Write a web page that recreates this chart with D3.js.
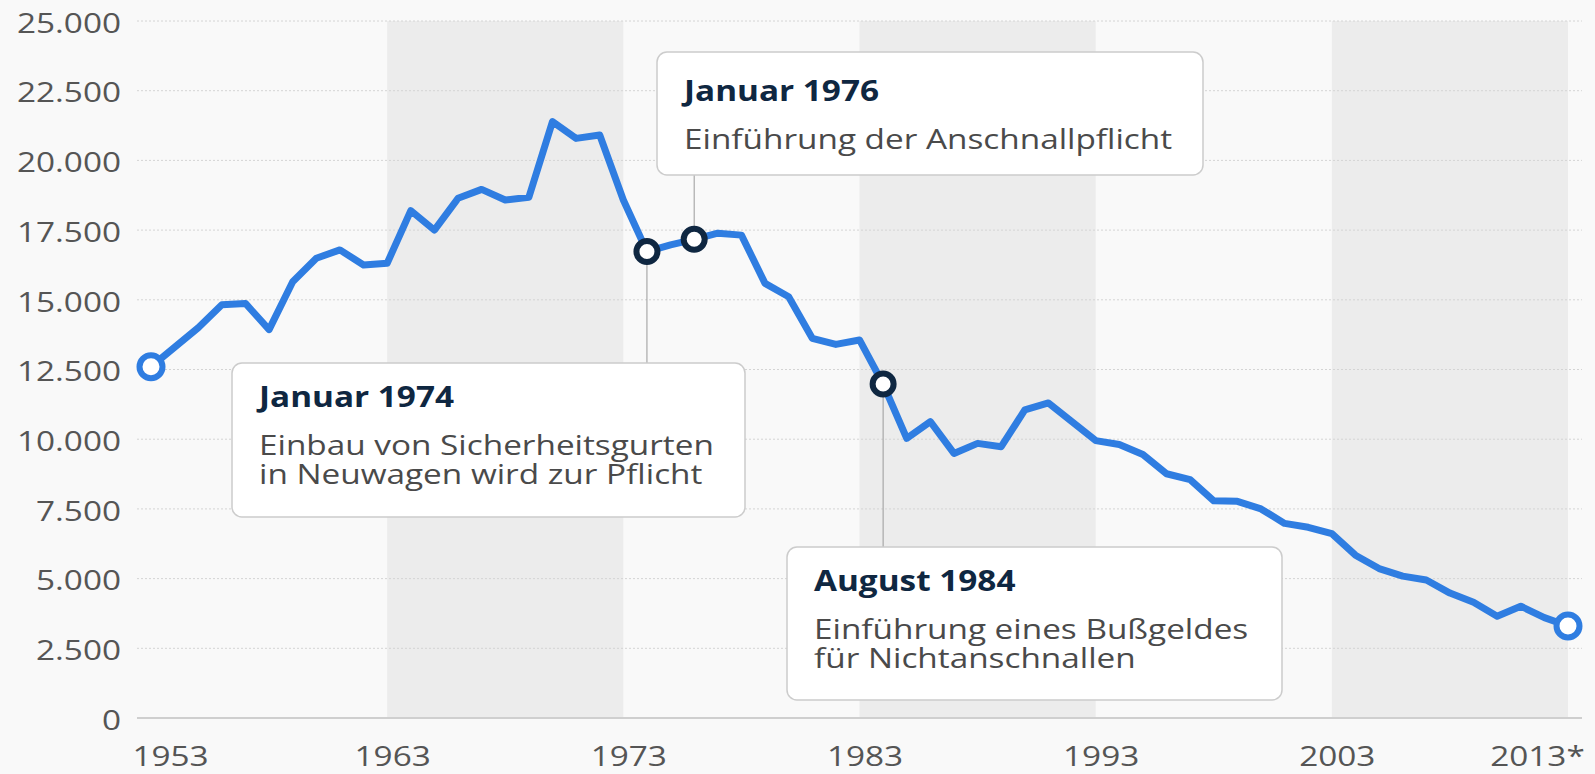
<!DOCTYPE html>
<html>
<head>
<meta charset="utf-8">
<script src="https://cdn.jsdelivr.net/npm/d3@7"></script>
<style>
  html, body { margin: 0; padding: 0; background: #f9f9f9; }
  svg { display: block; font-family: "Open Sans", sans-serif; }
  .grid line { stroke: #d4d4d4; stroke-width: 1; stroke-dasharray: 2,2; }
  .tick text { fill: #555; font-size: 28px; font-family: "Open Sans", sans-serif; }
</style>
</head>
<body>
<svg id="chart"></svg>
<script>
// Verkehrstote in Deutschland, 1953 - 2013
const years = [
  1953, 1954, 1955, 1956, 1957, 1958, 1959, 1960, 1961, 1962,
  1963, 1964, 1965, 1966, 1967, 1968, 1969, 1970, 1971, 1972,
  1973, 1974, 1975, 1976, 1977, 1978, 1979, 1980, 1981, 1982,
  1983, 1984, 1985, 1986, 1987, 1988, 1989, 1990, 1991, 1992,
  1993, 1994, 1995, 1996, 1997, 1998, 1999, 2000, 2001, 2002,
  2003, 2004, 2005, 2006, 2007, 2008, 2009, 2010, 2011, 2012,
  2013
];
const deaths = [
  12600, 13300, 14000, 14820, 14870, 13930, 15650, 16490, 16790, 16250,
  16310, 18200, 17500, 18640, 18960, 18580, 18680, 21390, 20790, 20910,
  18580, 16730, 16970, 17170, 17390, 17320, 15590, 15110, 13620, 13400,
  13560, 11980, 10030, 10630, 9490, 9850, 9730, 11050, 11300, 10630,
  9950, 9810, 9450, 8760, 8550, 7790, 7770, 7500, 6980, 6840,
  6610, 5840, 5360, 5090, 4950, 4480, 4150, 3650, 4010, 3600,
  3300
];

const xTicks = [1953, 1963, 1973, 1983, 1993, 2003, 2013];
const xTickLabels = ["1953", "1963", "1973", "1983", "1993", "2003", "2013*"];
const yTicks = [0, 2500, 5000, 7500, 10000, 12500, 15000, 17500, 20000, 22500, 25000];
const bandStarts = [1963, 1983, 2003];

const annoYears = [1974, 1976, 1984];
const annoTitles = ["Januar 1974", "Januar 1976", "August 1984"];
const annoLines = [
  ["Einbau von Sicherheitsgurten", "in Neuwagen wird zur Pflicht"],
  ["Einführung der Anschnallpflicht"],
  ["Einführung eines Bußgeldes", "für Nichtanschnallen"]
];

// layout
const width = 1595, height = 774;
const plot = { left: 137, right: 1582, top: 21, bottom: 718 };
const SX = 1.19; // the source picture is stretched horizontally
const boxes = [
  { x: 232, y: 363, w: 513, h: 154, titleDy: 44 },
  { x: 657, y: 52, w: 546, h: 123, titleDy: 49 },
  { x: 787, y: 547, w: 495, h: 153, titleDy: 44 }
];

const data = years.map((yr, i) => ({ year: yr, value: deaths[i] }));

const svg = d3.select("#chart").attr("width", width).attr("height", height);

svg.append("rect").attr("width", width).attr("height", height).attr("fill", "#f9f9f9");

const x = d3.scaleLinear().domain([1953, 2013]).range([151, 1568]);
const y = d3.scaleLinear().domain([0, 25000]).range([plot.bottom, plot.top]);

const de = d3.formatLocale({ decimal: ",", thousands: ".", grouping: [3], currency: ["", " €"] });
const fmt = de.format(",");

// shaded decades
svg.append("g").selectAll("rect")
  .data(bandStarts)
  .join("rect")
  .attr("x", d => x(d))
  .attr("y", plot.top)
  .attr("width", d => Math.min(x(d + 10), plot.right) - x(d))
  .attr("height", plot.bottom - plot.top)
  .attr("fill", "#ececec");

// gridlines
svg.append("g").attr("class", "grid")
  .selectAll("line")
  .data(yTicks.filter(d => d > 0))
  .join("line")
  .attr("x1", plot.left).attr("x2", plot.right)
  .attr("y1", d => y(d)).attr("y2", d => y(d));

// y axis
const yAxis = svg.append("g")
  .attr("transform", `translate(${plot.left},0)`)
  .call(d3.axisLeft(y).tickValues(yTicks).tickSize(0).tickPadding(16).tickFormat(fmt));
yAxis.attr("font-family", null).attr("font-size", null);
yAxis.select(".domain").remove();
yAxis.selectAll("text")
  .attr("x", null)
  .attr("dy", "0.4em")
  .attr("transform", `translate(-16,0) scale(${SX},1)`);

// x axis
const xAxis = svg.append("g")
  .attr("transform", `translate(0,${plot.bottom})`)
  .call(d3.axisBottom(x).tickValues(xTicks).tickSize(0).tickPadding(28)
    .tickFormat((d, i) => xTickLabels[i]));
xAxis.attr("font-family", null).attr("font-size", null);
xAxis.select(".domain").remove();
xAxis.selectAll("text")
  .attr("transform", (d, i) => {
    if (i === 0) return `translate(19,0) scale(${SX},1)`;
    if (i === xTicks.length - 1) return `translate(-31,0) scale(${SX},1)`;
    return `translate(5,0) scale(${SX},1)`;
  });

svg.append("line")
  .attr("x1", plot.left).attr("x2", plot.right)
  .attr("y1", plot.bottom).attr("y2", plot.bottom)
  .attr("stroke", "#cfcfcf").attr("stroke-width", 2);

// connectors
const annoData = annoYears.map((yr, i) => ({
  year: yr,
  value: deaths[years.indexOf(yr)],
  title: annoTitles[i],
  lines: annoLines[i],
  box: boxes[i]
}));

svg.append("g").selectAll("line")
  .data(annoData)
  .join("line")
  .attr("x1", d => x(d.year)).attr("x2", d => x(d.year))
  .attr("y1", d => y(d.value))
  .attr("y2", d => d.box.y > y(d.value) ? d.box.y : d.box.y + d.box.h)
  .attr("stroke", "#9a9a9a").attr("stroke-width", 1);

// line
const line = d3.line().x(d => x(d.year)).y(d => y(d.value));
svg.append("path")
  .datum(data)
  .attr("fill", "none")
  .attr("stroke", "#2f7de1")
  .attr("stroke-width", 7)
  .attr("stroke-linejoin", "round")
  .attr("d", line);

// end markers
svg.append("g").selectAll("circle")
  .data([data[0], data[data.length - 1]])
  .join("circle")
  .attr("cx", d => x(d.year)).attr("cy", d => y(d.value))
  .attr("r", 11.5)
  .attr("fill", "#fff").attr("stroke", "#2f7de1").attr("stroke-width", 6);

// annotation markers
svg.append("g").selectAll("circle")
  .data(annoData)
  .join("circle")
  .attr("cx", d => x(d.year)).attr("cy", d => y(d.value))
  .attr("r", 10.5)
  .attr("fill", "#fff").attr("stroke", "#0f2741").attr("stroke-width", 6);

// annotation boxes
const anno = svg.append("g").selectAll("g")
  .data(annoData)
  .join("g");

anno.append("rect")
  .attr("x", d => d.box.x).attr("y", d => d.box.y)
  .attr("width", d => d.box.w).attr("height", d => d.box.h)
  .attr("rx", 10)
  .attr("fill", "#fff").attr("stroke", "#cccccc").attr("stroke-width", 1.5);

anno.append("text")
  .attr("transform", d => `translate(${d.box.x + 27},${d.box.y + d.box.titleDy}) scale(${SX},1)`)
  .attr("font-size", 28).attr("font-weight", 700).attr("fill", "#0f2741")
  .text(d => d.title);

// body text: one text element per box, lines as tspans
const body = anno.append("text")
  .attr("transform", d => `translate(${d.box.x + 27},${d.box.y + d.box.titleDy + 48}) scale(${SX},1)`)
  .attr("font-size", 28).attr("fill", "#4a4a4a");

body.selectAll("tspan")
  .data(d => d.lines)
  .join("tspan")
  .attr("x", 0)
  .attr("dy", (t, i) => i === 0 ? 0 : 29)
  .text(t => t);
</script>
</body>
</html>
